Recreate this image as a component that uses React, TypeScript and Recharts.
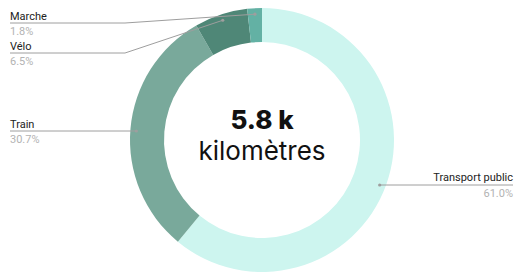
import { PieChart, Pie, Cell } from "recharts"

const categories = ["Transport public", "Train", "Vélo", "Marche"]
const distances = [3538, 1781, 377, 104]
const totalLabel = "5.8 k"
const unitLabel = "kilomètres"

const colors = ["#cdf5ef", "#79a99b", "#4f8777", "#63b1a4"]
// y of the leader line under each label
const labelLineY = [185, 131, 53, 23]

const chartData = categories.map((name, i) => ({ name, value: distances[i] }))

const RAD = Math.PI / 180

const inRange = (a: number, lo: number, hi: number) =>
  [a, a - 360, a + 360].some((v) => v >= lo && v <= hi)

const centerText = (cx: number, cy: number) => (
  <g>
    <text x={cx} y={cy - 11} textAnchor="middle" fill="#111111"
      style={{ fontFamily: "Inter, sans-serif", fontSize: 26, fontWeight: 800 }}>
      {totalLabel}
    </text>
    <text x={cx} y={cy + 20} textAnchor="middle" fill="#111111"
      style={{ fontFamily: "Inter, sans-serif", fontSize: 26, fontWeight: 400 }}>
      {unitLabel}
    </text>
  </g>
)

const renderLabel = (props: any) => {
  const { cx, cy, outerRadius, midAngle, startAngle, endAngle, index, percent, name } = props
  const r = outerRadius - 6
  const lineY = labelLineY[index]
  const left = Math.cos(midAngle * RAD) < 0
  const lo = Math.min(startAngle, endAngle)
  const hi = Math.max(startAngle, endAngle)

  let px = cx + r * Math.cos(midAngle * RAD)
  let py = cy - r * Math.sin(midAngle * RAD)
  let straight = false
  const s = -(lineY - cy) / r
  if (Math.abs(s) <= 1) {
    const base = Math.asin(s) / RAD
    const a = left ? 180 - base : base
    if (inRange(a, lo, hi)) {
      px = cx + r * Math.cos(a * RAD)
      py = lineY
      straight = true
    }
  }

  const pct = `${(percent * 100).toFixed(1)}%`
  const font = { fontFamily: "Roboto, sans-serif", fontSize: 11 }

  if (left) {
    const x0 = 10
    const elbow = 125
    const d = straight
      ? `M${x0},${lineY}L${px},${py}`
      : `M${x0},${lineY}L${elbow},${lineY}L${px},${py}`
    return (
      <g key={`lbl-${index}`}>
        <path d={d} stroke="#9e9e9e" strokeWidth={1} fill="none" />
        <circle cx={px} cy={py} r={1.6} fill="#9e9e9e" />
        <text x={x0} y={lineY - 3} fill="#222222" style={font}>{name}</text>
        <text x={x0} y={lineY + 12} fill="#b3b3b3" style={font}>{pct}</text>
      </g>
    )
  }

  const x1 = 513
  return (
    <g key={`lbl-${index}`}>
      {index === 0 && centerText(cx, cy)}
      <path d={`M${px},${lineY}L${x1},${lineY}`} stroke="#9e9e9e" strokeWidth={1} fill="none" />
      <circle cx={px} cy={lineY} r={1.6} fill="#9e9e9e" />
      <text x={x1} y={lineY - 4} textAnchor="end" fill="#222222" style={font}>{name}</text>
      <text x={x1} y={lineY + 12} textAnchor="end" fill="#b3b3b3" style={font}>{pct}</text>
    </g>
  )
}

export default function App() {
  return (
    <div style={{ position: "absolute", left: 0, top: 0, width: 516, height: 274, background: "#ffffff" }}>
      <PieChart width={516} height={274} margin={{ top: 0, right: 0, bottom: 0, left: 0 }}>
        <Pie
          data={chartData}
          dataKey="value"
          nameKey="name"
          cx={262}
          cy={140}
          innerRadius={98}
          outerRadius={132}
          startAngle={90}
          endAngle={-270}
          stroke="none"
          label={renderLabel}
          labelLine={false}
          isAnimationActive={false}
        >
          {chartData.map((entry, index) => (
            <Cell key={`cell-${index}`} fill={colors[index]} />
          ))}
        </Pie>
      </PieChart>
    </div>
  )
}
